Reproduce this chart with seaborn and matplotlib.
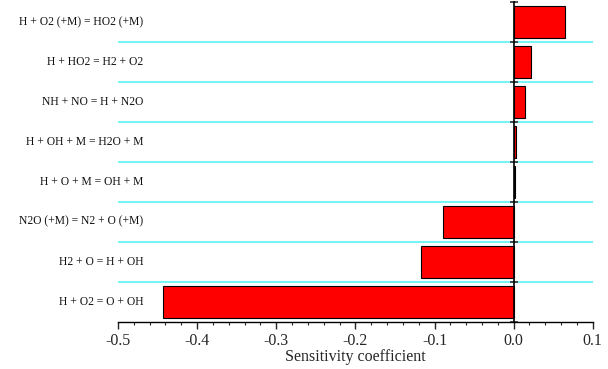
import matplotlib
matplotlib.use("Agg")
import matplotlib.pyplot as plt
import matplotlib.transforms as mtransforms
import seaborn as sns
import pandas as pd
import numpy as np

reactions = [
    "H + O2 (+M) = HO2 (+M)",
    "H + HO2 = H2 + O2",
    "NH + NO = H + N2O",
    "H + OH + M = H2O + M",
    "H + O + M = OH + M",
    "N2O (+M) = N2 + O (+M)",
    "H2 + O = H + OH",
    "H + O2 = O + OH",
]
sensitivity = [0.065, 0.022, 0.014, 0.003, 0.0015, -0.089, -0.117, -0.443]
x_ticks = [-0.5, -0.4, -0.3, -0.2, -0.1, 0.0, 0.1]

df = pd.DataFrame({"reaction": reactions, "coef": sensitivity})

sns.set_style("white")
plt.rcParams["font.family"] = ["Liberation Serif", "DejaVu Serif"]

fig = plt.figure(figsize=(6.08, 3.69), dpi=100)
ax = fig.add_axes([0.194, 0.128, 0.781, 0.867])

sns.barplot(data=df, x="coef", y="reaction", orient="h", order=reactions,
            color="red", saturation=1, width=0.8, edgecolor="black",
            linewidth=0.8, ax=ax)

n = len(reactions)
ax.set_xlim(-0.5, 0.1)
ax.set_ylim(n - 0.5, -0.5)

# separators between reactions
for b in np.arange(0.5, n - 0.5, 1.0):
    ax.axhline(b, color="#5cf2f2", lw=1.2, zorder=0)

# reaction names drawn inside the plot, right-aligned
trans = mtransforms.blended_transform_factory(ax.transData, ax.transData)
for i, name in enumerate(reactions):
    ax.text(-0.468, i, name, ha="right", va="center", fontsize=8.4,
            transform=trans, color="#111111")

# spines: bottom axis and a vertical axis through zero
for s in ["top", "right"]:
    ax.spines[s].set_visible(False)
ax.spines["left"].set_position(("data", 0.0))
ax.spines["left"].set_color("black")
ax.spines["left"].set_linewidth(1.2)
ax.spines["bottom"].set_color("black")
ax.spines["bottom"].set_linewidth(1.0)

ax.set_yticks(np.arange(-0.5, n, 1.0))
ax.set_yticklabels([])
ax.tick_params(axis="y", direction="inout", length=6, width=1.2, color="#333333", left=True)

ax.set_xticks(x_ticks)
ax.set_xticklabels([f"{t:.1f}" for t in x_ticks])
ax.set_xticks(np.arange(-0.5, 0.1001, 0.02), minor=True)
ax.tick_params(axis="x", which="major", direction="out", length=5, width=1,
               labelsize=11.5, pad=3, bottom=True)
ax.tick_params(axis="x", which="minor", direction="out", length=2.5, width=0.8,
               bottom=True)

ax.set_xlabel("Sensitivity coefficient", fontsize=11.5, labelpad=0)
ax.set_ylabel("")

fig.savefig("out.png", dpi=100)
